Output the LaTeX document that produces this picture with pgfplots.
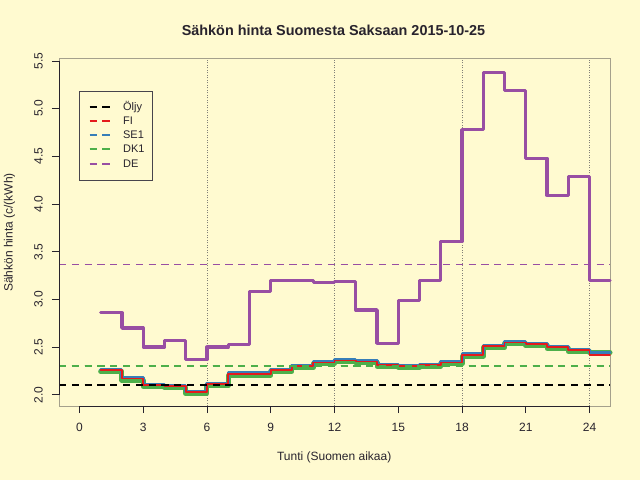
\documentclass[border=0pt]{standalone}
\usepackage{fontspec}
\setmainfont{Liberation Sans}
\usepackage{pgfplots}
\pgfplotsset{compat=1.18}
\definecolor{bg}{RGB}{255,250,208}
\definecolor{lnFI}{RGB}{228,26,28}
\definecolor{lnSE}{RGB}{55,126,184}
\definecolor{lnDK}{RGB}{77,175,74}
\definecolor{lnDE}{RGB}{152,78,163}
\definecolor{boxc}{RGB}{165,160,140}
\definecolor{txt}{RGB}{40,35,45}
\definecolor{gridc}{RGB}{130,128,120}

\pgfplotstableread{
x y
1 2.86
2 2.70
3 2.50
4 2.57
5 2.37
6 2.50
7 2.53
8 3.08
9 3.20
10 3.20
11 3.18
12 3.19
13 2.89
14 2.54
15 2.99
16 3.20
17 3.61
18 4.78
19 5.38
20 5.19
21 4.48
22 4.09
23 4.29
24 3.20
24.96 3.20
}\deData
\pgfplotstableread{
x y
1 2.26
2 2.17
3 2.10
4 2.09
5 2.03
6 2.11
7 2.22
8 2.22
9 2.26
10 2.30
11 2.34
12 2.36
13 2.35
14 2.31
15 2.30
16 2.31
17 2.34
18 2.42
19 2.51
20 2.55
21 2.53
22 2.50
23 2.47
24 2.42
24.96 2.42
}\fiData
\pgfplotstableread{
x y
1 2.27
2 2.18
3 2.105
4 2.095
5 2.035
6 2.12
7 2.23
8 2.23
9 2.27
10 2.31
11 2.35
12 2.37
13 2.36
14 2.32
15 2.305
16 2.315
17 2.35
18 2.43
19 2.52
20 2.56
21 2.54
22 2.51
23 2.48
24 2.44
24.96 2.44
}\seData
\pgfplotstableread{
x y
1 2.245
2 2.155
3 2.085
4 2.075
5 2.015
6 2.095
7 2.205
8 2.205
9 2.245
10 2.285
11 2.325
12 2.345
13 2.335
14 2.295
15 2.285
16 2.295
17 2.325
18 2.405
19 2.495
20 2.535
21 2.515
22 2.485
23 2.455
24 2.44
24.96 2.44
}\dkData

\begin{document}
\fontsize{12pt}{14pt}\selectfont
\begin{tikzpicture}[x=1pt,y=1pt]
\fill[bg] (0,0) rectangle (640,480);
\useasboundingbox (0,0) rectangle (640,480);
\begin{axis}[
  at={(59pt,74pt)}, anchor=south west,
  width=551pt, height=347pt, scale only axis,
  xmin=-0.96, xmax=24.96, ymin=1.883, ymax=5.52,
  clip=false,
  axis line style={boxc, line width=1pt},
  xtick={0,3,...,24}, ytick={2,2.5,...,5.5},
  xtick pos=left, ytick pos=left,
  tick align=outside, major tick length=7pt,
  tick style={txt, line width=0.8pt},
  /pgf/number format/assume math mode=true,
  every tick label/.append style={font=\fontsize{12pt}{14pt}\selectfont, text=txt, inner sep=0pt},
  xticklabel style={anchor=north, yshift=-10pt},
  yticklabel shift=9pt,
  yticklabel style={rotate=90, anchor=south,
    /pgf/number format/fixed, /pgf/number format/fixed zerofill, /pgf/number format/precision=1},
  extra x ticks={6,12,18,24},
  extra x tick labels={},
  extra x tick style={grid=major, major tick length=0pt,
    major grid style={gridc, line width=0.6pt, dash pattern=on 1pt off 1.5pt}},
  legend cell align=left,
  legend image code/.code={\path[draw=none,fill=none] (0pt,0pt) -- (43.4pt,0pt);
    \draw[line width=1.8pt, solid, #1] (10pt,0.5pt) -- (17.2pt,0.5pt);
    \draw[line width=1.8pt, solid, #1] (22.8pt,0.5pt) -- (30pt,0.5pt);},
  legend style={at={(0.0368,0.9086)}, anchor=north west, fill=none,
    draw=txt!85, line width=0.8pt,
    font=\fontsize{11pt}{13pt}\selectfont, text=txt,
    inner xsep=0pt, inner ysep=11pt, row sep=4.25pt,
    /tikz/column sep=0pt,
    nodes={inner sep=0pt, text height=8pt, text depth=2pt},
    /tikz/every even column/.append style={text width=29pt}},
]
\addlegendimage{draw=black}
\addlegendentry{Öljy}
\addlegendimage{draw=lnFI}
\addlegendentry{FI}
\addlegendimage{draw=lnSE}
\addlegendentry{SE1}
\addlegendimage{draw=lnDK}
\addlegendentry{DK1}
\addlegendimage{draw=lnDE}
\addlegendentry{DE}

\addplot[forget plot, const plot, lnDE, line width=3.3pt, line join=round, line cap=round] table[x=x,y=y] {\deData};
\addplot[forget plot, const plot, lnDK, line width=5pt, line join=round, line cap=round] table[x=x,y=y] {\dkData};
\addplot[forget plot, const plot, lnSE, line width=3pt, line join=round, line cap=round] table[x=x,y=y] {\seData};
\addplot[forget plot, const plot, lnFI, line width=1.7pt, line join=round, line cap=round] table[x=x,y=y] {\fiData};

\addplot[forget plot, black, line width=1.6pt, dash pattern=on 7.2pt off 5.6pt] coordinates {(-0.96,2.10) (24.96,2.10)};
\addplot[forget plot, lnFI, line width=1.6pt, dash pattern=on 7.2pt off 5.6pt] coordinates {(-0.96,2.305) (24.96,2.305)};
\addplot[forget plot, lnSE, line width=1.6pt, dash pattern=on 7.2pt off 5.6pt] coordinates {(-0.96,2.305) (24.96,2.305)};
\addplot[forget plot, lnDK, line width=1.6pt, dash pattern=on 7.2pt off 5.6pt] coordinates {(-0.96,2.30) (24.96,2.30)};
\addplot[forget plot, lnDE, line width=1.2pt, dash pattern=on 7.2pt off 5.6pt] coordinates {(-0.96,3.37) (24.96,3.37)};

\draw[txt, line width=0.9pt] (axis cs:0,1.883) -- (axis cs:24,1.883);
\draw[txt, line width=0.9pt] (axis cs:-0.96,2) -- (axis cs:-0.96,5.5);
\end{axis}
\node[anchor=base, font=\fontsize{14.4pt}{17pt}\selectfont\bfseries, text=txt, inner sep=0pt] at (333.5,444) {Sähkön hinta Suomesta Saksaan 2015-10-25};
\node[anchor=base, text=txt, inner sep=0pt] at (334.2,19.3) {Tunti (Suomen aikaa)};
\node[anchor=base, rotate=90, text=txt, inner sep=0pt] at (12.5,247.5) {Sähkön hinta (c/(kWh)};
\end{tikzpicture}
\end{document}
